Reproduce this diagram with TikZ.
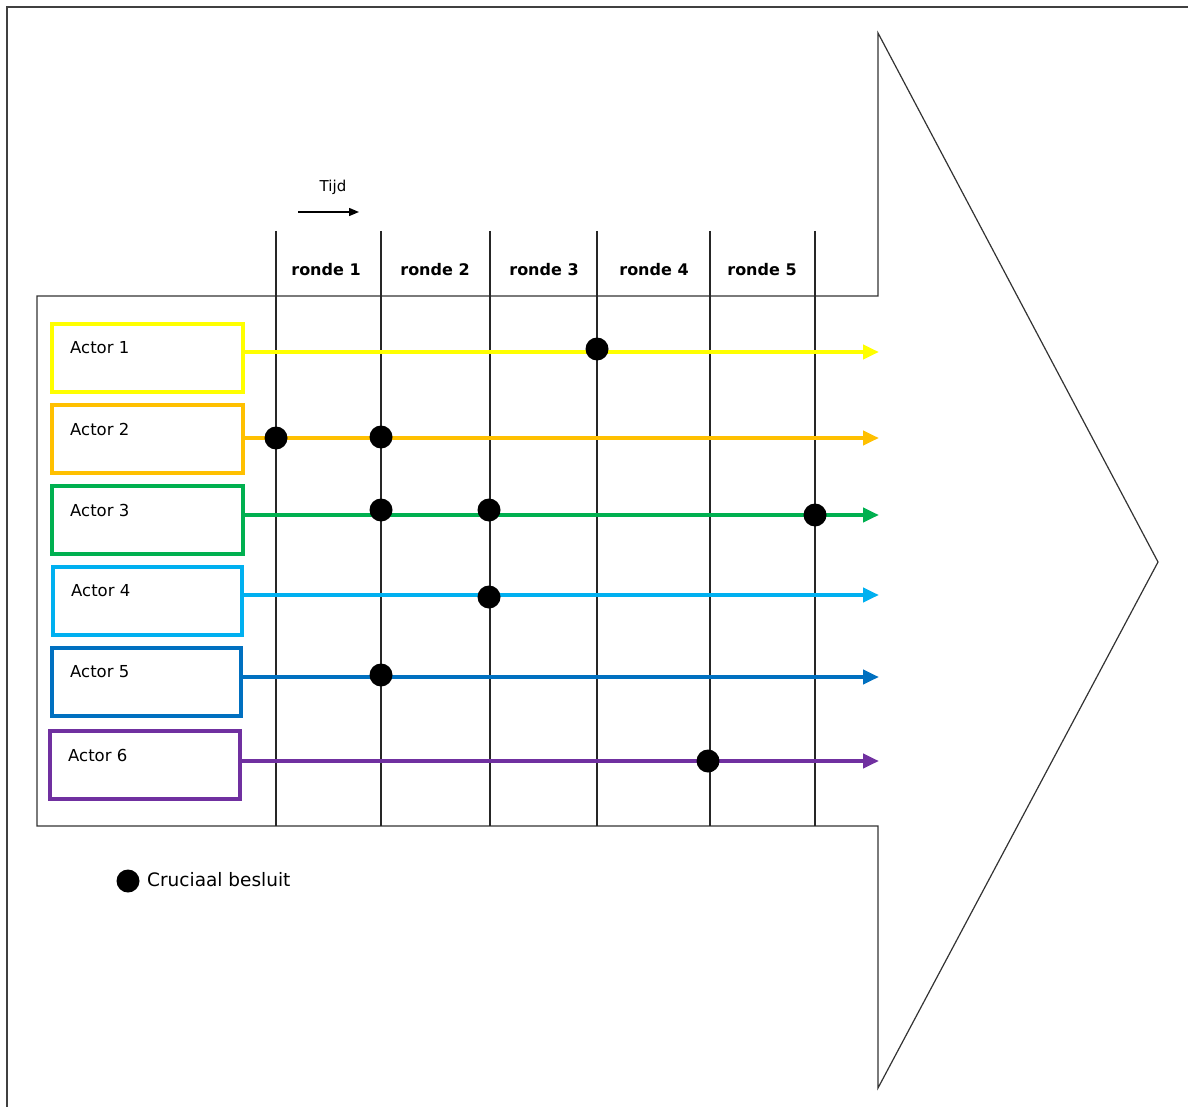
\documentclass[tikz,border=0pt]{standalone}
\usepackage{fontspec}
\setmainfont{DejaVu Sans}
\usetikzlibrary{arrows.meta}
\definecolor{cyel}{HTML}{FFFF00}
\definecolor{corg}{HTML}{FFC000}
\definecolor{cgrn}{HTML}{00B050}
\definecolor{clbl}{HTML}{00B0F0}
\definecolor{cblu}{HTML}{0070C0}
\definecolor{cpur}{HTML}{7030A0}
\begin{document}
\begin{tikzpicture}[x=1pt,y=-1pt,
  actorbox/.style={draw, line width=4.6pt, minimum width=189pt, minimum height=68pt, inner sep=0pt},
  actorlabel/.style={anchor=west, inner sep=0pt, font=\fontsize{16.5}{19}\selectfont},
  rondelabel/.style={inner sep=0pt, font=\fontsize{16}{19}\selectfont\bfseries},
  timeline/.style={line width=4.6pt, -{Triangle[length=16pt,width=14pt]}},
  decision/.style={circle, fill=black, minimum size=23pt, inner sep=0pt},
  grid/.style={line width=1.2pt, draw=black!85},
  outline/.style={line width=1.2pt, draw=black!80}]
\useasboundingbox (0,0) rectangle (1188,1107);
\fill[white] (0,0) rectangle (1188,1107);

% frame edges
\draw[line width=1.6pt, draw=black!75] (7,1107) -- (7,7) -- (1188,7);

% big arrow shape
\draw[outline] (37,296) -- (878,296) -- (878,33) -- (1158,562) -- (878,1088) -- (878,826) -- (37,826) -- cycle;

% round separators
\foreach \x/\n in {276/v0,381/v1,490/v2,597/v3,710/v4,815/v5}{
  \coordinate (\n t) at (\x,231);
  \coordinate (\n b) at (\x,826);
  \draw[grid] (\n t) -- (\n b);
}

% round labels
\node[rondelabel] (r1) at (326,270) {ronde 1};
\node[rondelabel] (r2) at (435,270) {ronde 2};
\node[rondelabel] (r3) at (544,270) {ronde 3};
\node[rondelabel] (r4) at (654,270) {ronde 4};
\node[rondelabel] (r5) at (762,270) {ronde 5};

% time indication
\node[inner sep=0pt, font=\fontsize{15}{18}\selectfont] (tijd) at (333,187) {Tijd};
\coordinate (ts) at (298,212);
\coordinate (te) at (359,212);
\draw[line width=1.4pt, -{Triangle[length=10pt,width=8pt]}] (ts) -- (te);

% actors
\foreach \i/\yb/\yl/\xl/\xr/\col in {1/358/352/52/243/cyel, 2/439/438/52/243/corg, 3/520/515/52/243/cgrn, 4/601/595/53/242/clbl, 5/682/677/52/241/cblu, 6/765/761/50/240/cpur}{
  \node[actorbox, draw=\col, minimum width={\xr-\xl}] (a\i) at ({(\xl+\xr)/2},\yb) {};
  \node[actorlabel] (l\i) at ({\xl+18},{\yb-10}) {Actor \i};
  \coordinate (s\i) at (\xr,\yl);
  \coordinate (e\i) at (879,\yl);
  \draw[timeline, draw=\col, color=\col] (s\i) -- (e\i);
}

% crucial decisions
\node[decision] (d11) at (597,349) {};
\node[decision] (d21) at (276,438) {};
\node[decision] (d22) at (381,437) {};
\node[decision] (d31) at (381,510) {};
\node[decision] (d32) at (489,510) {};
\node[decision] (d33) at (815,515) {};
\node[decision] (d41) at (489,597) {};
\node[decision] (d51) at (381,675) {};
\node[decision] (d61) at (708,761) {};

% legend
\node[decision] (leg) at (128,881) {};
\node[anchor=west, inner sep=0pt, font=\fontsize{18.5}{22}\selectfont] (legt) at (147,880) {Cruciaal besluit};
\end{tikzpicture}
\end{document}
